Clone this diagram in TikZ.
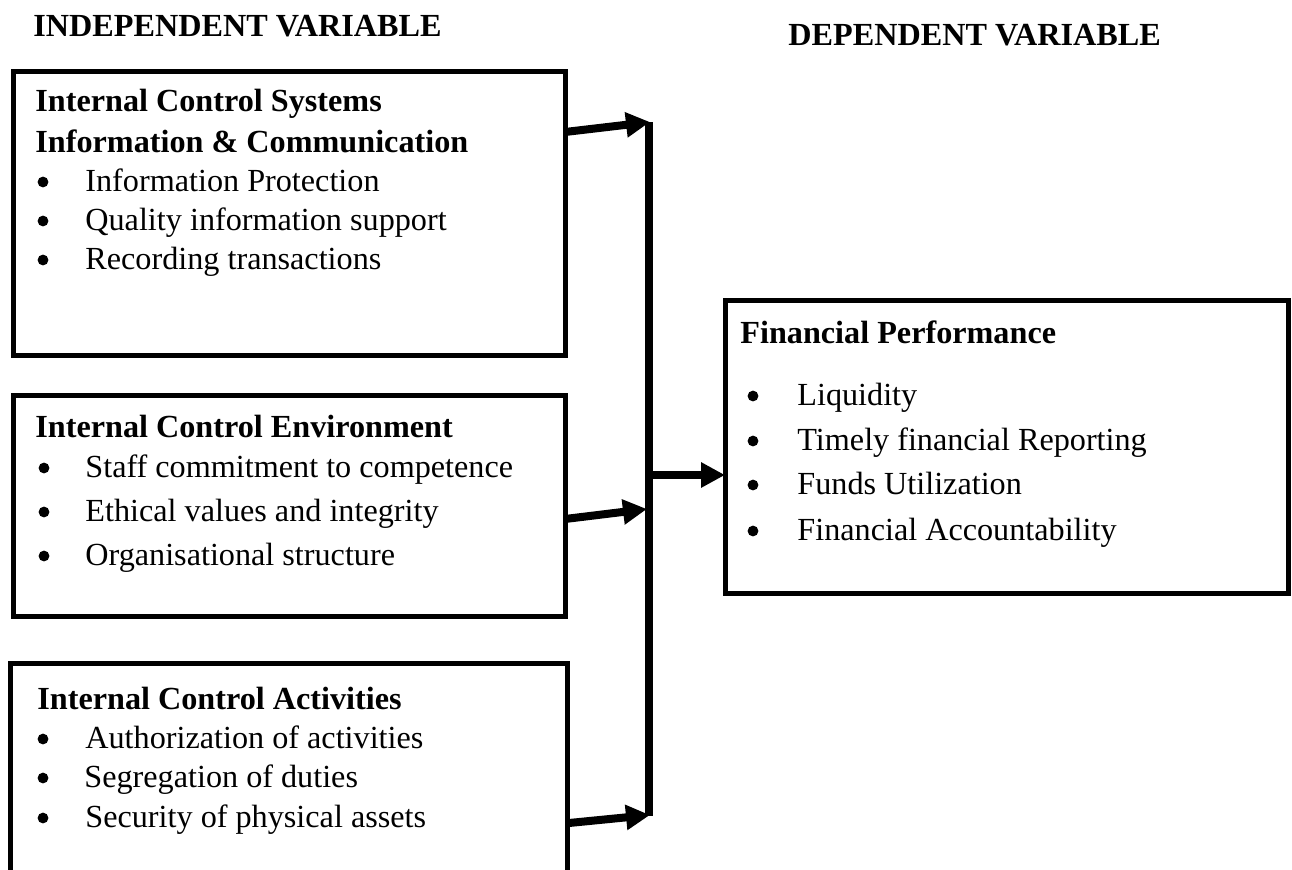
\documentclass[tikz,border=0pt]{standalone}
\usepackage{fontspec}
\setmainfont{Liberation Serif}
\usetikzlibrary{arrows.meta,calc}
\begin{document}
\begin{tikzpicture}[x=0.5pt,y=-0.5pt,
  frame/.style={draw, line width=2.5pt, inner sep=0pt, outer sep=0pt},
  txt/.style={anchor=base west, inner sep=0pt, font=\fontsize{16.1}{19}\selectfont},
  head/.style={anchor=base west, inner sep=0pt, font=\fontsize{16.1}{19}\selectfont\bfseries},
  dot/.style={circle, fill, inner sep=0pt, minimum size=5.4pt},
  link/.style={line width=4pt, -{Triangle[length=12pt,width=12pt]}},
]
\useasboundingbox (0,0) rectangle (1292,869);

% column headings
\node[head] (hind) at (33,36) {INDEPENDENT VARIABLE};
\node[head] (hdep) at (788,45) {DEPENDENT VARIABLE};

% frames
\node[frame, minimum width=275.75pt, minimum height=142pt] (b1) at (289.25,213) {};
\node[frame, minimum width=275.75pt, minimum height=110.5pt] (b2) at (289.25,505.5) {};
\node[frame, minimum width=278.5pt, minimum height=120pt] (b3) at (288.5,783) {};
\node[frame, minimum width=281.5pt, minimum height=146.5pt] (fp) at (1006.5,446.5) {};

% information & communication
\node[head] (t1a) at (35,111) {Internal Control Systems};
\node[head] (t1b) at (35,152) {Information \& Communication};
\node[dot] (d11) at (43,182) {};
\node[txt] (i11) at (85,191) {Information Protection};
\node[dot] (d12) at (43,221) {};
\node[txt] (i12) at (85,230) {Quality information support};
\node[dot] (d13) at (43,260) {};
\node[txt] (i13) at (85,269) {Recording transactions};

% control environment
\node[head] (t2) at (35,437) {Internal Control Environment};
\node[dot] (d21) at (44,468) {};
\node[txt] (i21) at (85,477) {Staff commitment to competence};
\node[dot] (d22) at (44,512) {};
\node[txt] (i22) at (85,521) {Ethical values and integrity};
\node[dot] (d23) at (44,556) {};
\node[txt] (i23) at (85,565) {Organisational structure};

% control activities
\node[head] (t3) at (37,709) {Internal Control Activities};
\node[dot] (d31) at (43,739) {};
\node[txt] (i31) at (85,748) {Authorization of activities};
\node[dot] (d32) at (43,778) {};
\node[txt] (i32) at (84,787) {Segregation of duties};
\node[dot] (d33) at (43,818) {};
\node[txt] (i33) at (85,827) {Security of physical assets};

% financial performance
\node[head] (t4) at (740,343) {Financial Performance};
\node[dot] (d41) at (753,396) {};
\node[txt] (i41) at (797,405) {Liquidity};
\node[dot] (d42) at (753,441) {};
\node[txt] (i42) at (797,450) {Timely financial Reporting};
\node[dot] (d43) at (753,485) {};
\node[txt] (i43) at (797,494) {Funds Utilization};
\node[dot] (d44) at (753,531) {};
\node[txt] (i44) at (797,540) {Financial Accountability};

% collecting bar
\coordinate (jtop) at (649,122);
\coordinate (jbot) at (649,816);
\coordinate (j1) at (650,122);
\coordinate (j2) at (647,509);
\coordinate (j3) at (650,815);
\coordinate (j0) at (649,475);
\draw[line width=4pt] (jtop) -- (jbot);

% arrows
\draw[link] ($(b1.north east)+(0,61)$) -- (j1);
\draw[link] ($(b2.north east)+(0,124)$) -- (j2);
\draw[link] ($(b3.north east)+(2,160)$) -- (j3);
\draw[link] (j0) -- (fp.west |- j0);
\end{tikzpicture}
\end{document}
